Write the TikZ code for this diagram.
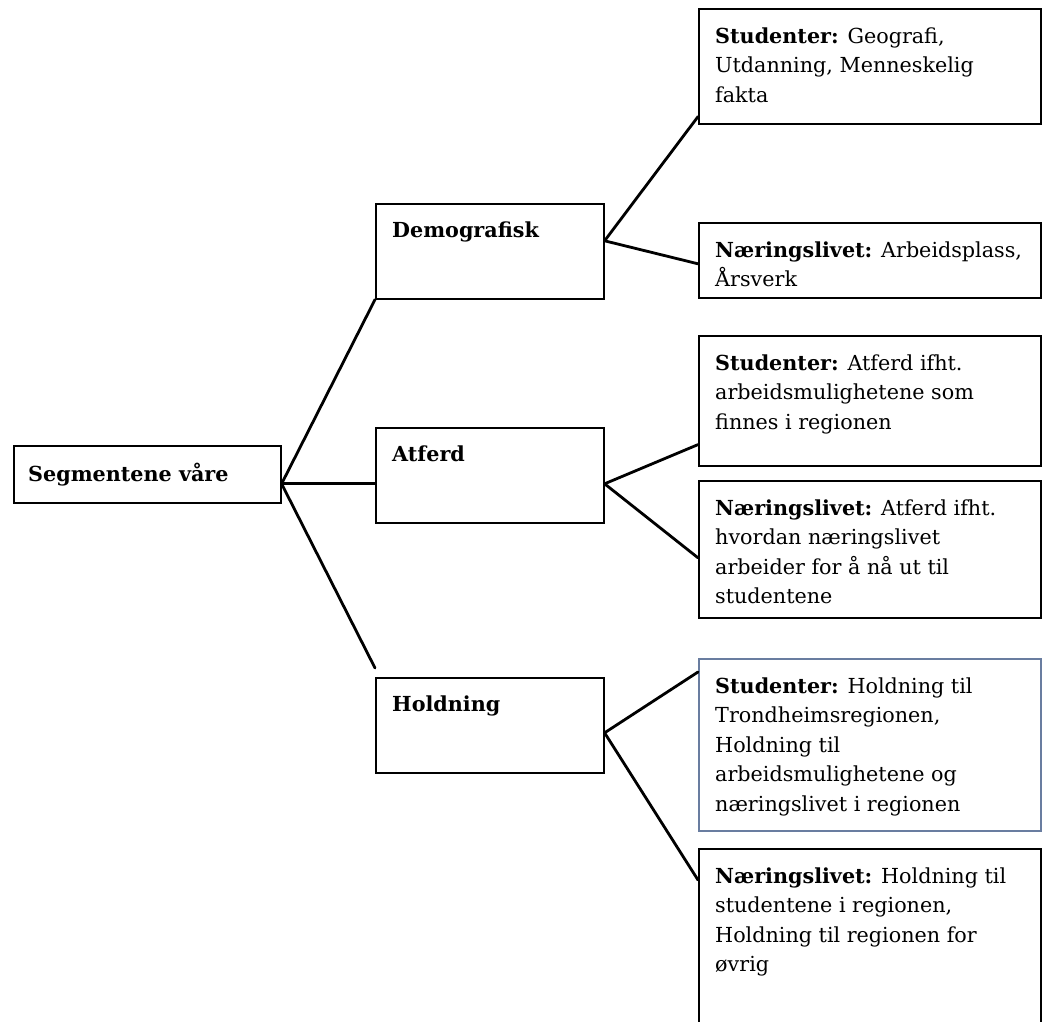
\documentclass[tikz,border=0pt]{standalone}
\usepackage{fontspec}
\setmainfont{DejaVu Serif}
\definecolor{bluegray}{RGB}{105,125,160}
\newcommand{\topstrut}{\rule{0pt}{16pt}}
\begin{document}
\begin{tikzpicture}[x=1pt,y=-1pt,
  box/.style={draw, line width=1.6pt, inner sep=0pt, anchor=north west},
  conn/.style={line width=2.8pt, line cap=round},
  lbl/.style={anchor=north west, inner sep=0pt, align=left, font=\fontsize{20.7}{29.5}\selectfont}]
\useasboundingbox (0,0) rectangle (1042,1021);
\clip (0,0) rectangle (1042,1021);
% boxes
\node[box, minimum width=267pt, minimum height=57pt] (seg) at (13,445) {};
\node[box, minimum width=228pt, minimum height=95pt] (demo) at (375,203) {};
\node[box, minimum width=228pt, minimum height=95pt] (atf) at (375,427) {};
\node[box, minimum width=228pt, minimum height=95pt] (hold) at (375,677) {};
\node[box, minimum width=342pt, minimum height=115pt] (s1) at (698,8) {};
\node[box, minimum width=342pt, minimum height=75pt] (n1) at (698,222) {};
\node[box, minimum width=342pt, minimum height=130pt] (s2) at (698,335) {};
\node[box, minimum width=342pt, minimum height=137pt] (n2) at (698,480) {};
\node[box, draw=bluegray, minimum width=342pt, minimum height=172pt] (s3) at (698,658) {};
\node[box, minimum width=342pt, minimum height=200pt] (n3) at (698,848) {};
% texts
\node[lbl] (segt) at ([xshift=15pt,yshift=-18pt]seg.north west) {\topstrut\textbf{Segmentene våre}};
\node[lbl] (demot) at ([xshift=17pt,yshift=-18pt]demo.north west) {\topstrut\textbf{Demografisk}};
\node[lbl] (atft) at ([xshift=17pt,yshift=-18pt]atf.north west) {\topstrut\textbf{Atferd}};
\node[lbl] (holdt) at ([xshift=17pt,yshift=-18pt]hold.north west) {\topstrut\textbf{Holdning}};
\node[lbl] (s1t) at ([xshift=17pt,yshift=-19pt]s1.north west) {\topstrut\textbf{Studenter:} Geografi,\\ Utdanning, Menneskelig\\ fakta};
\node[lbl] (n1t) at ([xshift=17pt,yshift=-19pt]n1.north west) {\topstrut\textbf{Næringslivet:} Arbeidsplass,\\ Årsverk};
\node[lbl] (s2t) at ([xshift=17pt,yshift=-19pt]s2.north west) {\topstrut\textbf{Studenter:} Atferd ifht.\\ arbeidsmulighetene som\\ finnes i regionen};
\node[lbl] (n2t) at ([xshift=17pt,yshift=-19pt]n2.north west) {\topstrut\textbf{Næringslivet:} Atferd ifht.\\ hvordan næringslivet\\ arbeider for å nå ut til\\ studentene};
\node[lbl] (s3t) at ([xshift=17pt,yshift=-19pt]s3.north west) {\topstrut\textbf{Studenter:} Holdning til\\ Trondheimsregionen,\\ Holdning til\\ arbeidsmulighetene og\\ næringslivet i regionen};
\node[lbl] (n3t) at ([xshift=17pt,yshift=-19pt]n3.north west) {\topstrut\textbf{Næringslivet:} Holdning til\\ studentene i regionen,\\ Holdning til regionen for\\ øvrig};
% junctions
\coordinate (jseg) at ([yshift=-9.5pt]seg.east);
\coordinate (jdemo) at ([yshift=10.5pt]demo.east);
\coordinate (jatf) at ([yshift=-8.5pt]atf.east);
\coordinate (jhold) at ([yshift=-7.5pt]hold.east);
% connectors
\draw[conn] (jseg) -- (demo.south west);
\draw[conn] (jseg) -- ([yshift=-8.5pt]atf.west);
\draw[conn] (jseg) -- ([yshift=9pt]hold.north west);
\draw[conn] (jdemo) -- ([yshift=8pt]s1.south west);
\draw[conn] (jdemo) -- ([yshift=-3.5pt]n1.west);
\draw[conn] (jatf) -- ([yshift=22pt]s2.south west);
\draw[conn] (jatf) -- ([yshift=-8.5pt]n2.west);
\draw[conn] (jhold) -- ([yshift=-14pt]s3.north west);
\draw[conn] (jhold) -- ([yshift=-32pt]n3.north west);
\end{tikzpicture}
\end{document}
